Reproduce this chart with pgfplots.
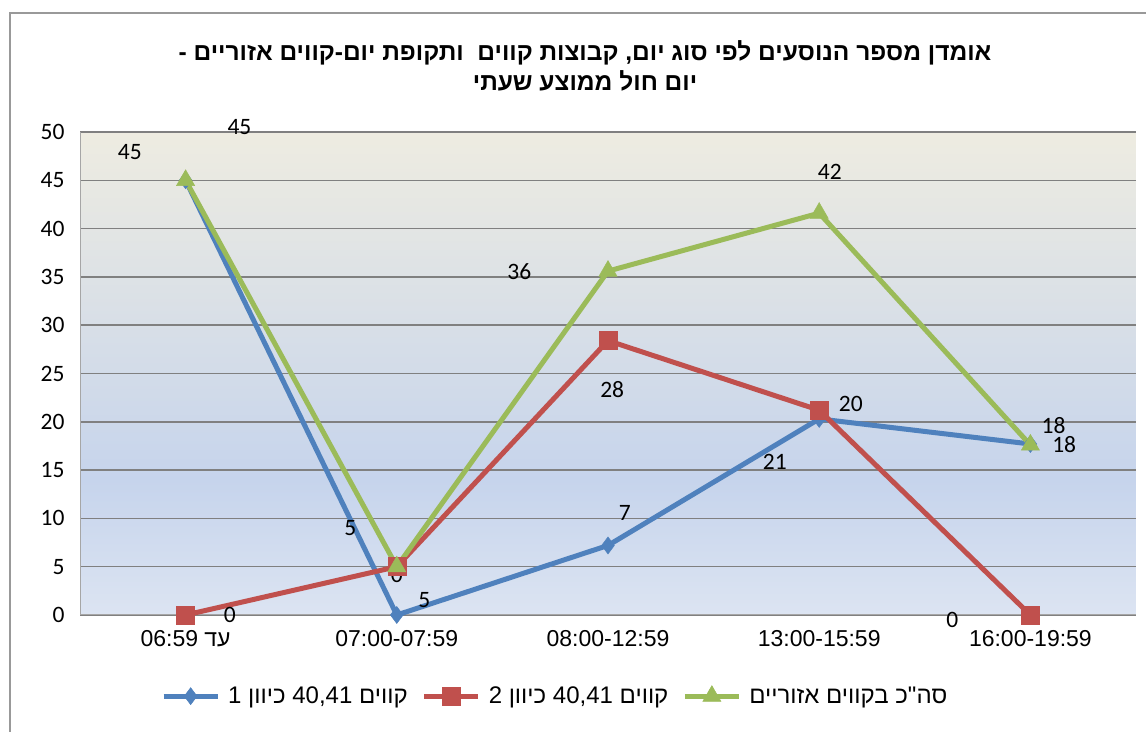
\documentclass[border=0pt]{standalone}
\usepackage{fontspec}
\usepackage{pgfplots}
\pgfplotsset{compat=1.18}
\TeXXeTstate=1
\setmainfont{Carlito}
\newfontfamily\heb[Script=Hebrew]{Liberation Sans}
\newfontfamily\hebbold[Script=Hebrew]{Liberation Sans Bold}
\definecolor{sblue}{HTML}{4F81BD}
\definecolor{sred}{HTML}{C0504D}
\definecolor{sgreen}{HTML}{9BBB59}
\definecolor{bgtop}{HTML}{EEECE1}
\definecolor{bgmid}{HTML}{C6D4EC}
\definecolor{bgbot}{HTML}{DCE4F2}
\definecolor{gridc}{HTML}{808080}
\pgfdeclareverticalshading{plotbg}{100bp}{color(0bp)=(bgbot); color(25bp)=(bgbot); color(39bp)=(bgmid); color(75bp)=(bgtop); color(100bp)=(bgtop)}
\begin{document}
\begin{tikzpicture}[x=1pt,y=1pt]
\useasboundingbox (0,0) rectangle (1146,731);
\draw[gray!80, line width=1.5pt] (10,-5) -- (10,718) -- (1150,718);
\node[font=\fontsize{24.5}{30}\selectfont\hebbold, align=center] at (585,665)
  {\beginR אומדן מספר הנוסעים לפי סוג יום, קבוצות קווים \ ותקופת יום-קווים אזוריים -\endR\\
   \beginR יום חול ממוצע שעתי\endR};
\begin{axis}[
  at={(80pt,116pt)}, anchor=south west,
  width=1056pt, height=483pt, scale only axis,
  xmin=-0.5, xmax=4.5, ymin=0, ymax=50,
  xtick={0,1,2,3,4},
  xticklabels={{\beginR עד \beginL 06:59\endL\endR},{07:00-07:59},{08:00-12:59},{13:00-15:59},{16:00-19:59}},
  xticklabel style={font=\fontsize{23}{26}\selectfont\heb, yshift=-12pt},
  ytick={0,5,...,50},
  yticklabel style={font=\fontsize{23.5}{26}\selectfont, xshift=-12pt},
  /pgf/number format/assume math mode=true,
  major tick length=0pt,
  ymajorgrids, grid style={gridc, line width=1.6pt},
  axis line style={gray!70, line width=1pt},
  axis x line*=bottom, axis y line*=left,
  axis background/.style={shading=plotbg},
  clip=false,
  legend style={at={(0.45,-0.168)}, anchor=center, draw=none, fill=none,
    legend columns=3, font=\fontsize{24}{28}\selectfont\heb,
    /tikz/every odd column/.append style={column sep=6pt},
    /tikz/every even column/.append style={column sep=12pt}},
  legend image code/.code={\draw[#1, mark repeat=2, mark phase=2] plot coordinates {(0pt,0pt)(27pt,0pt)(54pt,0pt)};},
  every axis plot/.append style={line width=5pt},
]
\addplot[color=sblue, mark=diamond*, mark size=8.5pt, mark options={solid, line width=0.5pt}]
  coordinates {(0,45) (1,0) (2,7.2) (3,20.3) (4,17.7)};
\addlegendentry{\beginR קווים \beginL 40,41\endL{} כיוון \beginL 1\endL\endR}
\addplot[color=sred, mark=square*, mark size=9pt, mark options={solid, line width=0.5pt}]
  coordinates {(0,0) (1,5) (2,28.4) (3,21.2) (4,0)};
\addlegendentry{\beginR קווים \beginL 40,41\endL{} כיוון \beginL 2\endL\endR}
\addplot[color=sgreen, mark=triangle*, mark size=10.5pt, mark options={solid, line width=0.5pt}]
  coordinates {(0,45) (1,5) (2,35.6) (3,41.6) (4,17.6)};
\addlegendentry{\beginR סה"כ בקווים אזוריים\endR}
\begin{scope}[every node/.style={font=\fontsize{23.5}{26}\selectfont}]
\node at (axis cs:-0.264,47.9) {45};
\node at (axis cs:0.255,50.5) {45};
\node at (axis cs:0.21,0) {0};
\node at (axis cs:0.78,9.0) {5};
\node at (axis cs:1.0,4.1) {0};
\node at (axis cs:1.13,1.55) {5};
\node at (axis cs:2.08,10.6) {7};
\node at (axis cs:1.58,35.5) {36};
\node at (axis cs:2.02,23.3) {28};
\node at (axis cs:3.05,45.9) {42};
\node at (axis cs:3.15,21.8) {20};
\node at (axis cs:2.79,15.9) {21};
\node at (axis cs:4.11,19.6) {18};
\node at (axis cs:4.16,17.6) {18};
\node at (axis cs:3.63,-0.5) {0};
\end{scope}
\end{axis}
\end{tikzpicture}
\end{document}
